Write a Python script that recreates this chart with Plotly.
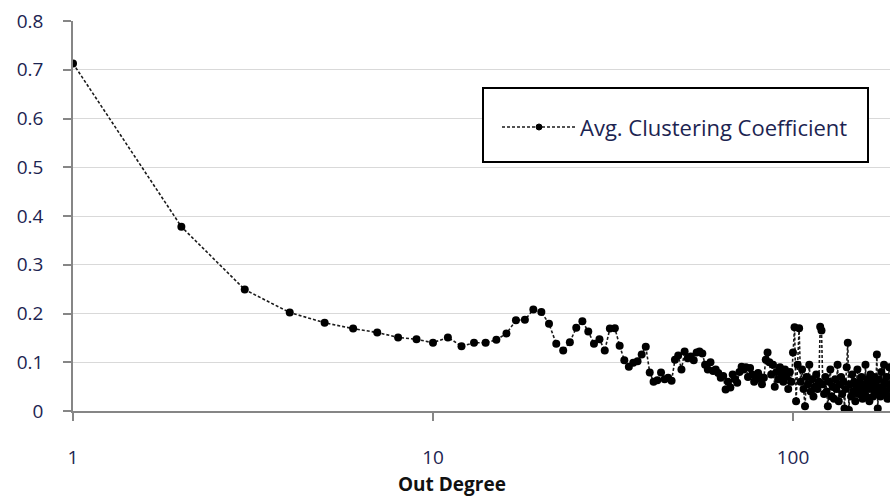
import plotly.graph_objects as go

# Out degree (integer degrees) and average clustering coefficient
out_degree = list(range(1, 188))
avg_clustering = [
    0.713, 0.378, 0.249, 0.202, 0.181, 0.169, 0.161, 0.151, 0.147, 0.140,   # 1-10
    0.151, 0.133, 0.140, 0.140, 0.146, 0.159, 0.186, 0.187, 0.208, 0.203,   # 11-20
    0.179, 0.138, 0.124, 0.141, 0.171, 0.184, 0.163, 0.138, 0.147, 0.124,   # 21-30
    0.169, 0.170, 0.134, 0.104, 0.091, 0.099, 0.102, 0.116, 0.132, 0.079,   # 31-40
    0.060, 0.063, 0.079, 0.065, 0.068, 0.062, 0.105, 0.114, 0.085, 0.122,   # 41-50
    0.108, 0.112, 0.104, 0.120, 0.122, 0.118, 0.095, 0.085, 0.100, 0.082,   # 51-60
    0.085, 0.078, 0.068, 0.072, 0.044, 0.060, 0.048, 0.075, 0.065, 0.058,   # 61-70
    0.080, 0.091, 0.085, 0.090, 0.070, 0.088, 0.075, 0.060, 0.065, 0.078,   # 71-80
    0.070, 0.055, 0.068, 0.105, 0.120, 0.100, 0.075, 0.095, 0.050, 0.080,   # 81-90
    0.065, 0.090, 0.075, 0.060, 0.085, 0.070, 0.045, 0.080, 0.060, 0.120,   # 91-100
    0.172, 0.020, 0.095, 0.170, 0.060, 0.085, 0.045, 0.010, 0.070, 0.055,   # 101-110
    0.095, 0.040, 0.065, 0.030, 0.050, 0.075, 0.045, 0.060, 0.173, 0.165,   # 111-120
    0.055, 0.035, 0.070, 0.040, 0.010, 0.060, 0.085, 0.030, 0.050, 0.025,   # 121-130
    0.065, 0.045, 0.095, 0.020, 0.055, 0.070, 0.035, 0.060, 0.005, 0.045,   # 131-140
    0.090, 0.140, 0.002, 0.055, 0.030, 0.075, 0.040, 0.060, 0.020, 0.050,   # 141-150
    0.085, 0.035, 0.060, 0.045, 0.070, 0.025, 0.055, 0.040, 0.095, 0.030,   # 151-160
    0.065, 0.050, 0.020, 0.075, 0.045, 0.060, 0.030, 0.070, 0.040, 0.055,   # 161-170
    0.116, 0.005, 0.065, 0.045, 0.030, 0.080, 0.050, 0.035, 0.095, 0.060,   # 171-180
    0.040, 0.070, 0.025, 0.055, 0.090, 0.045, 0.030,                       # 181-187
]
y_ticks = [0, 0.1, 0.2, 0.3, 0.4, 0.5, 0.6, 0.7, 0.8]
y_tick_labels = ["0", "0.1", "0.2", "0.3", "0.4", "0.5", "0.6", "0.7", "0.8"]
x_ticks = [1, 10, 100]
x_tick_labels = ["1", "10", "100"]
series_name = "Avg. Clustering Coefficient"
x_title = "Out Degree"

W, H = 890, 497
L, R, T, B = 73, 0, 21, 86
PW, PH = W - L - R, H - T - B


def px_x(p):
    return (p - L) / PW


def px_y(p):
    return (H - B - p) / PH


TEXT = "#1c2451"
FONT = "Open Sans"

fig = go.Figure()
fig.add_trace(go.Scatter(
    x=out_degree, y=avg_clustering, mode="lines+markers", name=series_name,
    line=dict(color="#1a1a1a", width=1.6, dash="3px,2px"),
    marker=dict(color="black", size=8, symbol="circle"),
    showlegend=False, cliponaxis=True,
))

fig.update_layout(
    width=W, height=H,
    margin=dict(l=L, r=R, t=T, b=B, pad=0),
    paper_bgcolor="white", plot_bgcolor="white",
    font=dict(family=FONT, color=TEXT, size=16),
    xaxis=dict(
        type="log", range=[0, 2.2695],
        tickvals=x_ticks, ticktext=x_tick_labels,
        ticks="outside", ticklen=8, tickwidth=1.5, tickcolor="#868686",
        showline=True, linecolor="#868686", linewidth=1.5,
        showgrid=False, zeroline=False,
        tickfont=dict(size=19, color=TEXT, family=FONT),
        ticklabelstandoff=20,
    ),
    yaxis=dict(
        range=[0, 0.8],
        tickvals=y_ticks, ticktext=y_tick_labels,
        ticks="outside", ticklen=8, tickwidth=1.5, tickcolor="#868686",
        showline=True, linecolor="#868686", linewidth=1.5,
        showgrid=True, gridcolor="#d9d9d9", gridwidth=1.2,
        zeroline=False,
        tickfont=dict(size=19, color=TEXT, family=FONT),
        ticklabelstandoff=16,
    ),
    shapes=[
        dict(type="rect", xref="paper", yref="paper",
             x0=px_x(483), x1=px_x(868), y0=px_y(162), y1=px_y(88),
             line=dict(color="black", width=2), fillcolor="white", layer="above"),
        dict(type="line", xref="paper", yref="paper",
             x0=px_x(502), x1=px_x(576), y0=px_y(127), y1=px_y(127),
             line=dict(color="#1a1a1a", width=1.6, dash="3px,2px"), layer="above"),
        dict(type="circle", xref="paper", yref="paper",
             xsizemode="pixel", ysizemode="pixel",
             xanchor=px_x(539), yanchor=px_y(127),
             x0=-3, x1=3, y0=-3, y1=3,
             line=dict(color="black", width=1), fillcolor="black", layer="above"),
    ],
    annotations=[
        dict(text=series_name, xref="paper", yref="paper",
             x=px_x(578), y=px_y(127), xanchor="left", yanchor="middle",
             showarrow=False, font=dict(size=22, color=TEXT, family=FONT)),
        dict(text="<b>" + x_title + "</b>", xref="paper", yref="paper",
             x=px_x(452), y=px_y(484), xanchor="center", yanchor="middle",
             showarrow=False, font=dict(size=19, color="#111111", family=FONT)),
    ],
)

fig.write_html("out.html")
